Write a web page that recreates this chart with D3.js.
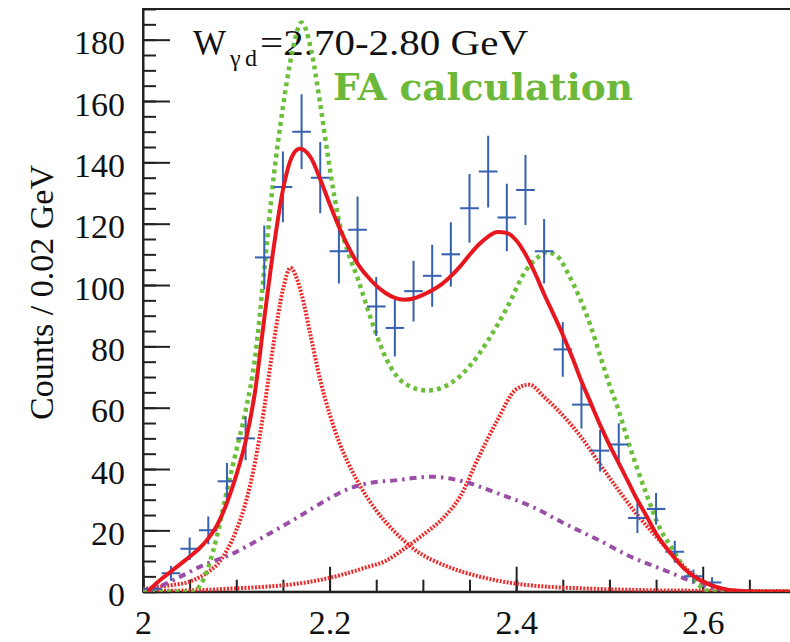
<!DOCTYPE html>
<html>
<head>
<meta charset="utf-8">
<script src="https://cdn.jsdelivr.net/npm/d3@7"></script>
</head>
<body style="margin:0">
<svg width="790" height="642"></svg>
<script>
// measured histogram (bin centres, counts, errors)
const binX = [2.01, 2.03, 2.05, 2.07, 2.09, 2.11, 2.13, 2.15, 2.17, 2.19, 2.21, 2.23, 2.25, 2.27, 2.29, 2.31,
    2.33, 2.35, 2.37, 2.39, 2.41, 2.43, 2.45, 2.47, 2.49, 2.51, 2.53, 2.55, 2.57, 2.59, 2.61];
const counts = [1, 6, 14, 20, 36, 50, 109, 132, 150, 135, 111, 118, 93, 86, 98, 103,
    110, 125, 137, 122, 131, 111, 79, 61, 46, 48, 24, 27, 13, 5, 3];
const errs = [1, 2.4, 3.7, 4.5, 6, 7.1, 10.4, 11.5, 12.2, 11.6, 10.5, 10.9, 9.6, 9.3, 9.9, 10.1,
    10.5, 11.2, 11.7, 11, 11.4, 10.5, 8.9, 7.8, 6.8, 6.9, 4.9, 5.2, 3.6, 2.2, 1.7];
const halfBin = 0.01;

// total fit (red solid)
const fitX = [2.005, 2.01, 2.02, 2.03, 2.04, 2.05, 2.06, 2.07, 2.08, 2.09, 2.10, 2.11, 2.12, 2.13, 2.14, 2.15, 2.16, 2.168,
    2.18, 2.19, 2.20, 2.21, 2.22, 2.23, 2.24, 2.25, 2.26, 2.27, 2.28, 2.29, 2.30, 2.31, 2.32, 2.33, 2.34, 2.35, 2.36, 2.37,
    2.38, 2.39, 2.40, 2.41, 2.42, 2.43, 2.44, 2.45, 2.46, 2.47, 2.48, 2.49, 2.50, 2.51, 2.52, 2.53, 2.54, 2.55, 2.56, 2.57,
    2.58, 2.59, 2.60, 2.62, 2.64, 2.66, 2.70];
const fitY = [0, 1.5, 4.2, 6.6, 9, 11.4, 14, 17.4, 22, 29, 38, 49, 65, 89, 112, 131, 142, 144.4,
    141.5, 134.5, 126.5, 119, 112.5, 107, 103, 99.8, 97.4, 95.8, 95.2, 95.6, 96.8, 98.3, 100.2, 102.9, 106.1, 109.8, 113.2, 115.8,
    117.3, 117, 114.6, 110, 104, 97, 90.5, 83.8, 76.5, 68.6, 61.5, 54.4, 47.9, 41.9, 35.9, 29.9, 24.5, 19, 14.7, 10.9,
    7.6, 5.1, 3.3, 1.1, 0.2, 0, 0];

// FA calculation (green dotted)
const faX = [2.00, 2.055, 2.06, 2.07, 2.08, 2.09, 2.10, 2.11, 2.12, 2.13, 2.14, 2.15, 2.16, 2.17, 2.18, 2.19, 2.20, 2.21,
    2.22, 2.23, 2.24, 2.25, 2.265, 2.28, 2.305, 2.33, 2.35, 2.37, 2.39, 2.41, 2.423, 2.433, 2.444, 2.457, 2.469,
    2.48, 2.49, 2.50, 2.51, 2.52, 2.53, 2.54, 2.555, 2.566, 2.577, 2.587, 2.598, 2.609, 2.70];
const faY = [0, 0, 1.5, 8, 19, 33, 46, 59, 76, 105, 135, 158, 176, 185.6, 177, 159, 138.5, 121,
    110.5, 102.3, 93, 84, 73.5, 68, 65.6, 68, 73.5, 82, 92.5, 104.5, 109, 110.7, 109.4, 102.9, 95.2,
    86.5, 77, 67.5, 59, 49, 40, 31.5, 20.1, 14.7, 9.2, 4.9, 1.6, 0, 0];

// first resonance component (red dotted)
const peak1X = [2.00, 2.01, 2.03, 2.05, 2.07, 2.08, 2.09, 2.10, 2.11, 2.12, 2.13, 2.14, 2.15, 2.158, 2.165, 2.17,
    2.18, 2.19, 2.20, 2.21, 2.23, 2.25, 2.27, 2.29, 2.33, 2.36, 2.40, 2.43, 2.47, 2.54, 2.61, 2.70];
const peak1Y = [0.8, 1.3, 2.1, 3.3, 6.5, 9, 13.5, 20, 29, 42, 60, 81, 98.5, 105.6, 102, 97,
    83, 69, 58, 49, 36, 26.5, 19.5, 14, 7.8, 5, 2.6, 1.7, 1.1, 0.5, 0.3, 0.2];

// second resonance component (red dotted)
const peak2X = [2.00, 2.06, 2.10, 2.13, 2.17, 2.20, 2.24, 2.26, 2.28, 2.30, 2.32, 2.34, 2.36, 2.38, 2.40, 2.414,
    2.43, 2.45, 2.47, 2.49, 2.51, 2.53, 2.55, 2.57, 2.59, 2.61, 2.63, 2.66, 2.70];
const peak2Y = [0.2, 0.5, 1.1, 1.6, 2.8, 4.5, 8, 10, 14, 18.5, 23.5, 31, 44, 56, 66, 67.5,
    63.5, 57.5, 50.3, 41.5, 33, 25, 18, 11.2, 5.5, 2, 0.5, 0.1, 0];

// broad background (magenta dash-dot)
const bgX = [2.00, 2.01, 2.04, 2.06, 2.10, 2.13, 2.17, 2.20, 2.22, 2.24, 2.27, 2.31, 2.34, 2.38, 2.42, 2.45,
    2.49, 2.52, 2.56, 2.59, 2.61, 2.63, 2.65];
const bgY = [0, 0.8, 4.9, 8, 13, 18, 25, 30.5, 33.5, 35.3, 36.3, 37.5, 36.2, 32.1, 27.3, 22.5,
    16.6, 11.8, 6.9, 3.2, 1.3, 0.4, 0];

const xTicks = [2, 2.2, 2.4, 2.6];
const xTickLabels = ["2", "2.2", "2.4", "2.6"];
const yTicks = [0, 20, 40, 60, 80, 100, 120, 140, 160, 180];

const svg = d3.select("svg"),
    plotL = 143, plotR = 796, plotT = 9, plotB = 591.7;

const x = d3.scaleLinear().domain([2, 2.7]).range([plotL, plotR]);
const y = d3.scaleLinear().domain([0, 190]).range([plotB, plotT]);

// serif text helper
function label(sel, size, fam) {
    return sel.style("font-family", fam || "Liberation Serif", "important")
        .style("font-size", size + "px", "important");
}

// frame
svg.append("rect")
    .attr("x", plotL).attr("y", plotT)
    .attr("width", plotR - plotL).attr("height", plotB - plotT)
    .attr("fill", "none").attr("stroke", "#222").attr("stroke-width", 2);

// minor ticks
svg.append("g")
    .attr("transform", `translate(${plotL},0)`)
    .call(d3.axisLeft(y).tickValues(d3.range(0, 191, 5)).tickSize(-13).tickFormat(""))
    .call(g => g.select(".domain").remove())
    .call(g => g.selectAll("text").remove());
svg.append("g")
    .attr("transform", `translate(0,${plotB})`)
    .call(d3.axisBottom(x).tickValues(d3.range(0, 15).map(i => 2 + i * 0.05)).tickSize(-12).tickFormat(""))
    .call(g => g.select(".domain").remove())
    .call(g => g.selectAll("text").remove());

// major ticks + labels
const yAxis = svg.append("g")
    .attr("transform", `translate(${plotL},0)`)
    .call(d3.axisLeft(y).tickValues(yTicks).tickSize(-27).tickSizeOuter(0).tickPadding(18));
const xAxis = svg.append("g")
    .attr("transform", `translate(0,${plotB})`)
    .call(d3.axisBottom(x).tickValues(xTicks).tickSize(-25).tickSizeOuter(0).tickPadding(18)
        .tickFormat((d, i) => xTickLabels[i]));

svg.selectAll("g").attr("font-family", null).attr("font-size", null);
[yAxis, xAxis].forEach(a => {
    a.select(".domain").attr("stroke", "#222").attr("stroke-width", 2);
    label(a.selectAll("text"), 34).attr("fill", "#111");
});
svg.selectAll("g line").attr("stroke", "#222").attr("stroke-width", 2);
yAxis.selectAll("text").attr("dy", "0.42em");

// axis title
label(svg.append("text"), 34)
    .attr("transform", "translate(53,165) rotate(-90)")
    .attr("text-anchor", "end")
    .attr("fill", "#111")
    .text("Counts / 0.02 GeV");

// labels
label(svg.append("text"), 35).attr("x", 193).attr("y", 55).attr("fill", "#111").text("W");
label(svg.append("text"), 24).attr("x", 230).attr("y", 66).attr("fill", "#111").text("γ");
label(svg.append("text"), 24).attr("x", 245).attr("y", 66).attr("fill", "#111").text("d");
label(svg.append("text"), 35).attr("x", 260).attr("y", 55).attr("fill", "#111")
    .attr("textLength", 268).attr("lengthAdjust", "spacingAndGlyphs")
    .text("=2.70-2.80 GeV");
label(svg.append("text"), 37, "DejaVu Serif")
    .style("font-weight", "bold")
    .attr("x", 333).attr("y", 100).attr("fill", "#6cb83a")
    .attr("textLength", 300).attr("lengthAdjust", "spacingAndGlyphs")
    .text("FA calculation");

// plot area
svg.append("clipPath").attr("id", "clip")
    .append("rect").attr("x", plotL).attr("y", plotT).attr("width", plotR - plotL).attr("height", plotB - plotT);
const plot = svg.append("g").attr("clip-path", "url(#clip)");

const line = d3.line()
    .x(d => x(d[0]))
    .y(d => y(d[1]))
    .curve(d3.curveMonotoneX);

function drawCurve(xs, ys, color, width, dash) {
    plot.append("path")
        .datum(xs.map((v, i) => [v, ys[i]]))
        .attr("d", line)
        .style("fill", "none")
        .style("stroke", color)
        .style("stroke-width", width + "px")
        .style("stroke-dasharray", dash || "none");
}

drawCurve(peak1X, peak1Y, "#ee2a2a", 4, "2 1.5");
drawCurve(peak2X, peak2Y, "#ee2a2a", 4, "2 1.5");
drawCurve(bgX, bgY, "#9b4ea6", 4, "7 5 2.5 5");
drawCurve(faX, faY, "#6cbf3a", 4.5, "4 4");

// data crosses
const pts = binX.map((v, i) => ({ x: v, c: counts[i], e: errs[i] }));
const cross = plot.append("g").attr("stroke", "#3660b0").attr("stroke-width", 2);
cross.selectAll(".h")
    .data(pts).enter().append("line")
    .attr("x1", d => x(d.x - halfBin)).attr("x2", d => x(d.x + halfBin))
    .attr("y1", d => y(d.c)).attr("y2", d => y(d.c));
cross.selectAll(".v")
    .data(pts).enter().append("line")
    .attr("x1", d => x(d.x)).attr("x2", d => x(d.x))
    .attr("y1", d => y(d.c - d.e)).attr("y2", d => y(d.c + d.e));

drawCurve(fitX, fitY, "#e8161e", 4, null);
</script>
</body>
</html>
